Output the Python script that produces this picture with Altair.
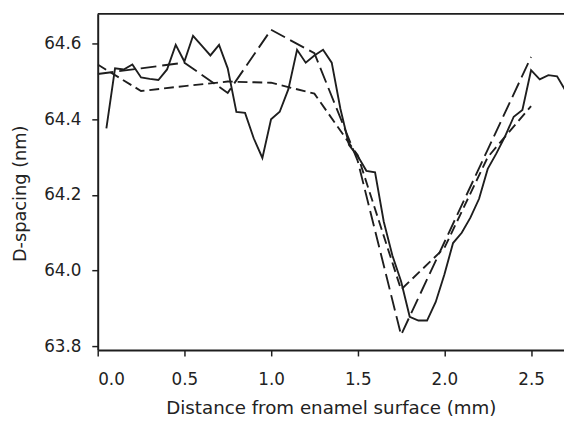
import altair as alt
import pandas as pd

# Solid series (fine sampling)
solid_x = [0.05, 0.10, 0.15, 0.20, 0.25, 0.30, 0.35, 0.40, 0.45, 0.50,
           0.55, 0.60, 0.65, 0.70, 0.75, 0.80, 0.85, 0.90, 0.95, 1.00,
           1.05, 1.10, 1.15, 1.20, 1.25, 1.30, 1.35, 1.40, 1.45, 1.50,
           1.55, 1.60, 1.65, 1.70, 1.75, 1.80, 1.85, 1.90, 1.95, 2.00,
           2.05, 2.10, 2.15, 2.20, 2.25, 2.30, 2.35, 2.40, 2.45, 2.50,
           2.55, 2.60, 2.65, 2.70]
solid_y = [64.376, 64.535, 64.532, 64.545, 64.511, 64.507, 64.504, 64.532, 64.597, 64.553,
           64.621, 64.595, 64.569, 64.597, 64.535, 64.420, 64.417, 64.350, 64.298, 64.400,
           64.420, 64.480, 64.584, 64.550, 64.569, 64.584, 64.550, 64.428, 64.332, 64.303,
           64.264, 64.260, 64.130, 64.040, 63.972, 63.878, 63.868, 63.868, 63.917, 63.990,
           64.073, 64.100, 64.140, 64.190, 64.269, 64.310, 64.355, 64.407, 64.425, 64.530,
           64.506, 64.517, 64.514, 64.475]

# Long-dash series
long_x = [0.00, 0.25, 0.50, 0.75, 1.00, 1.25, 1.50, 1.75, 2.00, 2.25, 2.50]
long_y = [64.520, 64.535, 64.550, 64.470, 64.637, 64.575, 64.290, 63.830, 64.075, 64.320, 64.565]

# Short-dash series
short_x = [0.00, 0.25, 0.50, 0.75, 1.00, 1.25, 1.50, 1.75, 2.00, 2.25, 2.50]
short_y = [64.545, 64.475, 64.488, 64.500, 64.497, 64.468, 64.305, 63.950, 64.060, 64.300, 64.435]

x_ticks = [0.0, 0.5, 1.0, 1.5, 2.0, 2.5]
y_ticks = [63.8, 64.0, 64.2, 64.4, 64.6]

FONT = "DejaVu Sans"
INK = "#1e1e1e"

x_scale = alt.Scale(domain=[0, 2.69], nice=False, zero=False)
y_scale = alt.Scale(domain=[63.79, 64.679], nice=False, zero=False)

x_axis = alt.Axis(values=x_ticks, format=".1f", title="Distance from enamel surface (mm)",
                  labelBaseline="alphabetic", labelPadding=29, tickSize=6,
                  titleBaseline="alphabetic", titleY=64, titleX=236.5)
y_axis = alt.Axis(values=y_ticks, format=".1f", title="D-spacing (nm)",
                  labelPadding=11, tickSize=6, titleFontSize=18,
                  titleAngle=270, titleBaseline="alphabetic", titleAlign="center",
                  titleX=-73, titleY=182)

def series(xs, ys, dash=None):
    df = pd.DataFrame({"x": xs, "y": ys})
    kw = dict(color=INK, strokeWidth=1.9, clip=True)
    if dash:
        kw["strokeDash"] = dash
    return alt.Chart(df).mark_line(**kw).encode(
        x=alt.X("x:Q", scale=x_scale, axis=x_axis),
        y=alt.Y("y:Q", scale=y_scale, axis=y_axis),
    )

solid = series(solid_x, solid_y)
longd = series(long_x, long_y, [16, 6])
shortd = series(short_x, short_y, [10, 5])

frame_top = alt.Chart(pd.DataFrame({"a": [0]})).mark_rule(color=INK, strokeWidth=2).encode(
    x=alt.value(0), x2=alt.value(473), y=alt.value(0)
)

chart = alt.layer(shortd, longd, solid, frame_top).properties(
    width=473, height=341,
    padding={"left": 91, "top": 3, "right": 0, "bottom": 67},
    autosize=alt.AutoSizeParams(type="none"),
    background="white",
).configure_view(stroke=None).configure_axis(
    grid=False,
    domainColor=INK, domainWidth=2,
    tickColor=INK, tickWidth=1.5,
    labelFont=FONT, labelFontSize=17, labelColor="#222",
    titleFont=FONT, titleFontSize=18.5, titleFontWeight="normal", titleColor="#222",
)

chart.save("out.html", embed_options={"renderer": "svg", "actions": False})
